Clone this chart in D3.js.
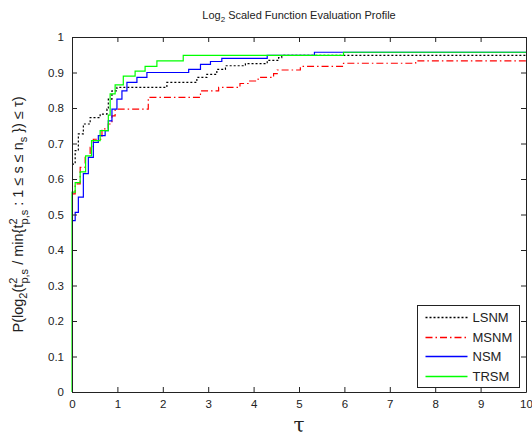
<!DOCTYPE html>
<html>
<head>
<meta charset="utf-8">
<script src="https://cdn.jsdelivr.net/npm/d3@7"></script>
<style>
  body { margin: 0; background: #fff; }
  svg text { font-family: "Liberation Sans", Arial, sans-serif; fill: #222; }
</style>
</head>
<body>
<div id="chart"></div>
<script>
// step breakpoints (tau, fraction of problems)
var lsnmTau = [0, 0.07, 0.14, 0.25, 0.4, 0.62, 0.77, 0.8, 0.88, 0.99, 2.09, 2.75, 2.97, 3.19, 3.38, 3.82, 4.3, 4.55, 4.62, 10];
var lsnmP   = [0.642, 0.68, 0.727, 0.755, 0.773, 0.783, 0.797, 0.825, 0.848, 0.858, 0.872, 0.886, 0.895, 0.909, 0.919, 0.925, 0.934, 0.942, 0.948, 0.948];

var msnmTau = [0, 0.07, 0.18, 0.29, 0.4, 0.47, 0.66, 0.8, 0.88, 0.95, 1.68, 2.83, 3.23, 3.7, 3.89, 4.1, 4.44, 4.52, 5.03, 5.98, 7.57, 10];
var msnmP   = [0.558, 0.586, 0.633, 0.661, 0.689, 0.712, 0.741, 0.755, 0.778, 0.797, 0.83, 0.848, 0.858, 0.869, 0.876, 0.886, 0.897, 0.907, 0.917, 0.926, 0.933, 0.933];

var nsmTau = [0, 0.07, 0.14, 0.25, 0.36, 0.47, 0.58, 0.73, 0.8, 0.88, 0.99, 1.1, 1.21, 1.43, 1.65, 2.57, 2.83, 3.05, 3.3, 4.3, 5.34, 10];
var nsmP   = [0.483, 0.506, 0.549, 0.615, 0.661, 0.703, 0.722, 0.736, 0.764, 0.797, 0.825, 0.848, 0.872, 0.886, 0.9, 0.909, 0.923, 0.931, 0.94, 0.948, 0.957, 0.957];

var trsmTau = [0, 0, 0.07, 0.18, 0.3, 0.43, 0.62, 0.8, 0.84, 0.95, 1.13, 1.39, 1.61, 1.87, 2.45, 5.98, 10];
var trsmP   = [0, 0.563, 0.59, 0.62, 0.665, 0.708, 0.736, 0.78, 0.84, 0.865, 0.89, 0.904, 0.917, 0.933, 0.948, 0.957, 0.957];

var seriesNames = ["LSNM", "MSNM", "NSM", "TRSM"];
var seriesColors = ["#000000", "#ff0000", "#0000ff", "#00ff00"];
var seriesDash = ["2,2", "7,3,1.5,3", null, null];

var xTicks = [0, 1, 2, 3, 4, 5, 6, 7, 8, 9, 10];
var yTicks = [0, 0.1, 0.2, 0.3, 0.4, 0.5, 0.6, 0.7, 0.8, 0.9, 1];

(function() {
    var width = 532, height = 439,
        mLeft = 72, mRight = 526, mTop = 37, mBottom = 392,
        tickLen = 5;

    function zip(t, p) { return t.map(function(d, i) { return [d, p[i]]; }); }
    var series = [zip(lsnmTau, lsnmP), zip(msnmTau, msnmP), zip(nsmTau, nsmP), zip(trsmTau, trsmP)];

    var x = d3.scaleLinear().domain([0, 10]).range([mLeft, mRight]);
    var y = d3.scaleLinear().domain([0, 1]).range([mBottom, mTop]);

    var svg = d3.select("#chart").append("svg")
        .attr("width", width)
        .attr("height", height);

    // title
    var title = svg.append("text")
        .attr("x", (mLeft + mRight) / 2)
        .attr("y", 19)
        .attr("text-anchor", "middle")
        .style("font-size", "11px");
    title.append("tspan").text("Log");
    title.append("tspan").attr("dy", 3).style("font-size", "8px").text("2");
    title.append("tspan").attr("dy", -3).text(" Scaled Function Evaluation Profile");

    // curves
    var line = d3.line()
        .x(function(d) { return x(d[0]); })
        .y(function(d) { return y(d[1]); })
        .curve(d3.curveStepAfter);

    svg.selectAll("path.curve")
        .data(series)
        .enter().append("path")
        .attr("class", "curve")
        .attr("d", line)
        .attr("fill", "none")
        .attr("stroke", function(d, i) { return seriesColors[i]; })
        .attr("stroke-width", 1.2)
        .attr("stroke-dasharray", function(d, i) { return seriesDash[i]; });

    // box and axes (ticks pointing inward, on all four sides)
    var axisBottom = d3.axisBottom(x).tickValues(xTicks).tickSizeInner(-tickLen).tickSizeOuter(0).tickPadding(8).tickFormat(d3.format("d"));
    var axisTop = d3.axisTop(x).tickValues(xTicks).tickSizeInner(-tickLen).tickSizeOuter(0).tickFormat("");
    var axisLeft = d3.axisLeft(y).tickValues(yTicks).tickSizeInner(-tickLen).tickSizeOuter(0).tickPadding(8)
        .tickFormat(function(d) { return String(+d.toFixed(1)); });
    var axisRight = d3.axisRight(y).tickValues(yTicks).tickSizeInner(-tickLen).tickSizeOuter(0).tickFormat("");

    function styleAxis(g) {
        g.selectAll("path").attr("stroke", "#222");
        g.selectAll("line").attr("stroke", "#222");
        g.selectAll("text").style("font-size", "11.5px").attr("fill", "#222")
            .style("font-family", "'Liberation Sans', Arial, sans-serif");
    }

    svg.append("g").attr("transform", "translate(0," + mBottom + ")").call(axisBottom).call(styleAxis);
    svg.append("g").attr("transform", "translate(0," + mTop + ")").call(axisTop).call(styleAxis);
    svg.append("g").attr("transform", "translate(" + mLeft + ",0)").call(axisLeft).call(styleAxis);
    svg.append("g").attr("transform", "translate(" + mRight + ",0)").call(axisRight).call(styleAxis);

    // x label
    svg.append("text")
        .attr("x", (mLeft + mRight) / 2)
        .attr("y", 432)
        .attr("text-anchor", "middle")
        .style("font-family", "'DejaVu Serif', serif")
        .style("font-size", "20px")
        .text("τ");

    // y label
    var ylab = svg.append("text")
        .attr("transform", "translate(23," + ((mTop + mBottom) / 2) + ") rotate(-90)")
        .attr("text-anchor", "middle")
        .style("font-size", "14.5px");
    ylab.append("tspan").text("P(log");
    ylab.append("tspan").attr("dy", 4).style("font-size", "11px").text("2");
    ylab.append("tspan").attr("dy", -4).text("(t");
    ylab.append("tspan").attr("dy", -6).style("font-size", "11px").text("2");
    ylab.append("tspan").attr("dx", -6).attr("dy", 11).style("font-size", "11px").text("p,s");
    ylab.append("tspan").attr("dy", -5).text("  / min{t");
    ylab.append("tspan").attr("dy", -6).style("font-size", "11px").text("2");
    ylab.append("tspan").attr("dx", -6).attr("dy", 11).style("font-size", "11px").text("p,s");
    ylab.append("tspan").attr("dy", -5).text(" : 1 ≤ s ≤ n");
    ylab.append("tspan").attr("dy", 4).style("font-size", "11px").text("s");
    ylab.append("tspan").attr("dy", -4).text(" }) ≤ τ)");

    // legend
    var legend = svg.append("g").attr("transform", "translate(417.5,305.5)");
    legend.append("rect")
        .attr("width", 102)
        .attr("height", 82)
        .attr("fill", "#fff")
        .attr("stroke", "#222")
        .attr("stroke-width", 1);

    var items = legend.selectAll("g.item")
        .data(seriesNames)
        .enter().append("g")
        .attr("class", "item")
        .attr("transform", function(d, i) { return "translate(0," + Math.round(12 + i * 19.5) + ")"; });

    items.append("line")
        .attr("x1", 8)
        .attr("x2", 50)
        .attr("stroke", function(d) { return seriesColors[seriesNames.indexOf(d)]; })
        .attr("stroke-width", 1.3)
        .attr("stroke-dasharray", function(d) { return seriesDash[seriesNames.indexOf(d)]; });

    items.append("text")
        .attr("x", 55)
        .attr("dy", "0.36em")
        .style("font-size", "13px")
        .text(function(d) { return d; });
})();
</script>
</body>
</html>
